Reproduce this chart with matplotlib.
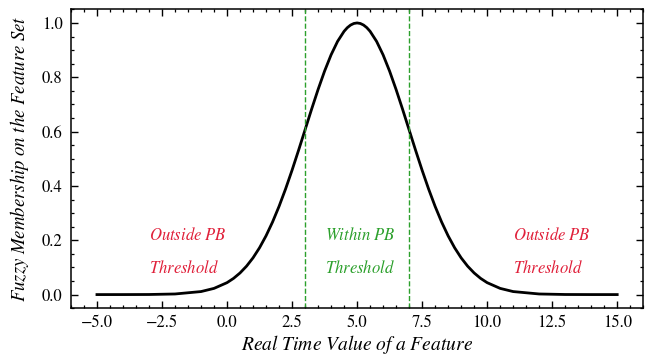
import matplotlib
matplotlib.use("Agg")
import matplotlib.pyplot as plt
from matplotlib.ticker import AutoMinorLocator

# ── Data ────────────────────────────────────────────────────────
feature_value = [-5.0, -4.0, -3.0, -2.0, -1.0, -0.5,
                 0.0, 0.25, 0.5, 0.75, 1.0, 1.25, 1.5, 1.75,
                 2.0, 2.25, 2.5, 2.75, 3.0, 3.25, 3.5, 3.75,
                 4.0, 4.25, 4.5, 4.625, 4.75, 4.875, 5.0, 5.125, 5.25, 5.375,
                 5.5, 5.75,
                 6.0, 6.25, 6.5, 6.75, 7.0, 7.25, 7.5, 7.75,
                 8.0, 8.25, 8.5, 8.75, 9.0, 9.25, 9.5, 9.75,
                 10.0, 10.5, 11.0, 12.0, 13.0, 14.0, 15.0]
membership = [0.0, 0.00004, 0.0003, 0.0022, 0.0111, 0.0228,
              0.0439, 0.0596, 0.0796, 0.1046, 0.1353, 0.1724, 0.2163, 0.2671,
              0.3247, 0.3886, 0.4578, 0.5311, 0.6065, 0.6820, 0.7548, 0.8226,
              0.8825, 0.9321, 0.9692, 0.9826, 0.9922, 0.9980, 1.0, 0.9980, 0.9922, 0.9826,
              0.9692, 0.9321,
              0.8825, 0.8226, 0.7548, 0.6820, 0.6065, 0.5311, 0.4578, 0.3886,
              0.3247, 0.2671, 0.2163, 0.1724, 0.1353, 0.1046, 0.0796, 0.0596,
              0.0439, 0.0228, 0.0111, 0.0022, 0.0003, 0.00004, 0.0]

pb_bounds = [3.0, 7.0]

# (x, y, text, color)
region_labels = [
    (-3.0, 0.2, r"$Outside\ PB$", "#e0203a"),
    (-3.0, 0.08, r"$Threshold$", "#e0203a"),
    (3.75, 0.2, r"$Within\ PB$", "#2ca02c"),
    (3.75, 0.08, r"$Threshold$", "#2ca02c"),
    (11.0, 0.2, r"$Outside\ PB$", "#e0203a"),
    (11.0, 0.08, r"$Threshold$", "#e0203a"),
]

# ── Style ───────────────────────────────────────────────────────
plt.rcParams["font.family"] = ["STIXGeneral", "Liberation Serif", "DejaVu Serif"]
plt.rcParams["mathtext.fontset"] = "stix"
plt.rcParams["axes.linewidth"] = 1.1

fig = plt.figure(figsize=(6.57, 3.6), dpi=100)
ax = fig.add_axes([0.108, 0.144, 0.871, 0.830])

ax.plot(feature_value, membership, color="black", lw=2.0)
for xb in pb_bounds:
    ax.axvline(xb, color="#2ca02c", ls="--", lw=1.0)

for x, y, s, c in region_labels:
    ax.text(x, y, s, color=c, fontsize=12, ha="left", va="baseline")

ax.set_xlabel(r"$Real\ Time\ Value\ of\ a\ Feature$", fontsize=14, labelpad=1)
ax.set_ylabel(r"$Fuzzy\ Membership\ on\ the\ Feature\ Set$", fontsize=13.5, labelpad=8)

ax.set_xlim(-6, 16)
ax.set_ylim(-0.05, 1.05)
ax.xaxis.set_minor_locator(AutoMinorLocator(5))
ax.yaxis.set_minor_locator(AutoMinorLocator(4))
ax.tick_params(which="both", direction="in", top=True, right=True, labelsize=12, pad=6)
ax.tick_params(axis="x", which="both", pad=5)
ax.tick_params(which="major", length=5, width=1.0)
ax.tick_params(which="minor", length=2.5, width=0.9)

fig.savefig("out.png", dpi=100)
plt.close(fig)
